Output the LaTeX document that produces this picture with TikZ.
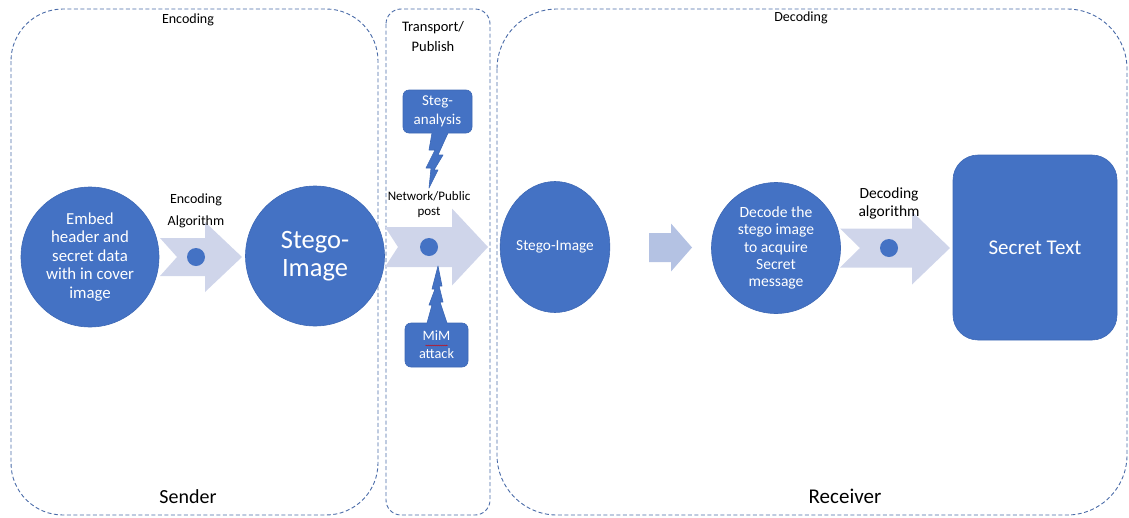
\documentclass[tikz,border=0pt]{standalone}
\usepackage{fontspec}
\setmainfont{Carlito}
\usetikzlibrary{shapes.geometric,decorations.pathmorphing}
\definecolor{accblue}{HTML}{4472C4}
\definecolor{edgeblue}{HTML}{3D68B5}
\definecolor{arrlight}{HTML}{CFD5EA}
\definecolor{arrmid}{HTML}{B4C2E3}
\definecolor{dashcol}{HTML}{4A6BA8}
% notched block arrow: x0, notch x, head base x, tip x, centre y, body half height, head half height
\newcommand\blockarr[8][arrlight]{%
  \fill[#1] (#2,#6-#7) -- (#4,#6-#7) -- (#4,#6-#8) -- (#5,#6) -- (#4,#6+#8) -- (#4,#6+#7) -- (#2,#6+#7) -- (#3,#6) -- cycle;}
\begin{document}
\begin{tikzpicture}[x=1pt,y=-1pt,
  container/.style={draw=dashcol, line width=0.9pt, dash pattern=on 4pt off 2.5pt},
  blueshape/.style={fill=accblue, draw=edgeblue, line width=0.6pt, text=white, align=center, inner sep=0pt},
  blueell/.style={blueshape, ellipse},
  calloutbox/.style={blueshape, rectangle, rounded corners=6pt},
  dotnode/.style={circle, fill=accblue, minimum size=18pt, inner sep=0pt},
  plainlabel/.style={align=center, text=black, inner sep=0pt},
]
\useasboundingbox (0,0) rectangle (1129,517);

% containers
\draw[container, rounded corners=52pt] (11,9) rectangle (378,515);
\draw[container, rounded corners=15pt] (386,9) rectangle (490,515);
\draw[container, rounded corners=60pt] (497,9) rectangle (1127,515);

\node[plainlabel, font=\fontsize{14}{16}\selectfont] (enclab) at (188,20) {Encoding};
\node[plainlabel, font=\fontsize{14.5}{20}\selectfont] (translab) at (433,37) {Transport/\\Publish};
\node[plainlabel, font=\fontsize{14}{16}\selectfont] (declab) at (801,18) {Decoding};
\node[plainlabel, font=\fontsize{20}{22}\selectfont] (sender) at (188,497) {Sender};
\node[plainlabel, font=\fontsize{21}{23}\selectfont] (receiver) at (845,496) {Receiver};

% block arrows
\blockarr{160}{177}{205}{242}{257}{19}{35}
\blockarr{385}{398}{452}{488}{247}{20}{38.5}
\blockarr[arrmid]{649}{649}{671}{692}{247.5}{14.5}{24}
\blockarr{840}{860}{912}{950}{248}{19.5}{36.5}

\node[dotnode] (dot1) at (196,257) {};
\node[dotnode] (dot2) at (429,247) {};
\node[dotnode] (dot3) at (889,248) {};

\node[plainlabel, font=\fontsize{14}{22}\selectfont] (encalg) at (196,211) {Encoding\\Algorithm};
\node[plainlabel, font=\fontsize{13}{15}\selectfont] (netpost) at (429,205) {Network/Public\\post};
\node[plainlabel, font=\fontsize{15.5}{18}\selectfont] (decalg) at (889,203) {Decoding\\algorithm};

% main shapes
\node[blueell, minimum width=138pt, minimum height=140pt, font=\fontsize{16.8}{18.6}\selectfont] (embed) at (90,257) {Embed\\header and\\secret data\\with in cover\\image};
\node[blueell, minimum width=139pt, minimum height=140pt, font=\fontsize{26.5}{28}\selectfont] (stego1) at (315,256) {Stego-\\Image};
\node[blueell, minimum width=105pt, minimum height=131pt, font=\fontsize{15.3}{17}\selectfont] (stego2) at (555,247) {Stego-Image};
\node[blueell, minimum width=129pt, minimum height=131pt, font=\fontsize{15.6}{17.2}\selectfont] (decode) at (776,248) {Decode the\\stego image\\to acquire\\Secret\\message};
\node[blueshape, rectangle, rounded corners=25pt, minimum width=164pt, minimum height=185pt, font=\fontsize{21}{24}\selectfont] (secret) at (1035,247.5) {Secret Text};

% callouts with lightning tails
\node[calloutbox, minimum width=69pt, minimum height=43pt, font=\fontsize{15}{19.5}\selectfont] (steg) at (437.5,111.5) {Steg-\\analysis};
\fill[accblue] (432,130) -- (432,133) -- (429,150) -- (435,150) -- (426,168) -- (431,168) -- (429,188) -- (438,170) -- (434,170) -- (443,155) -- (438,155) -- (448,133) -- (448,130) -- cycle;
\draw[edgeblue, line width=0.6pt, line join=round] (432,133) -- (429,150) -- (435,150) -- (426,168) -- (431,168) -- (429,188) -- (438,170) -- (434,170) -- (443,155) -- (438,155) -- (448,133);

\node[calloutbox, minimum width=63pt, minimum height=44pt, font=\fontsize{14.3}{18}\selectfont] (mim) at (436.5,345) {MiM\\attack};
\fill[accblue] (427,326) -- (427,323) -- (432,305) -- (429,305) -- (435,289) -- (432,289) -- (438,266) -- (442,286) -- (439,286) -- (443,302) -- (440,302) -- (447,323) -- (447,326) -- cycle;
\draw[edgeblue, line width=0.6pt, line join=round] (427,323) -- (432,305) -- (429,305) -- (435,289) -- (432,289) -- (438,266) -- (442,286) -- (439,286) -- (443,302) -- (440,302) -- (447,323);
\draw[red!85!black, line width=0.5pt, decorate, decoration={snake, amplitude=0.5pt, segment length=2pt}] ([xshift=-11pt,yshift=-0.5pt]mim.center) -- ([xshift=11pt,yshift=-0.5pt]mim.center);

\end{tikzpicture}
\end{document}
